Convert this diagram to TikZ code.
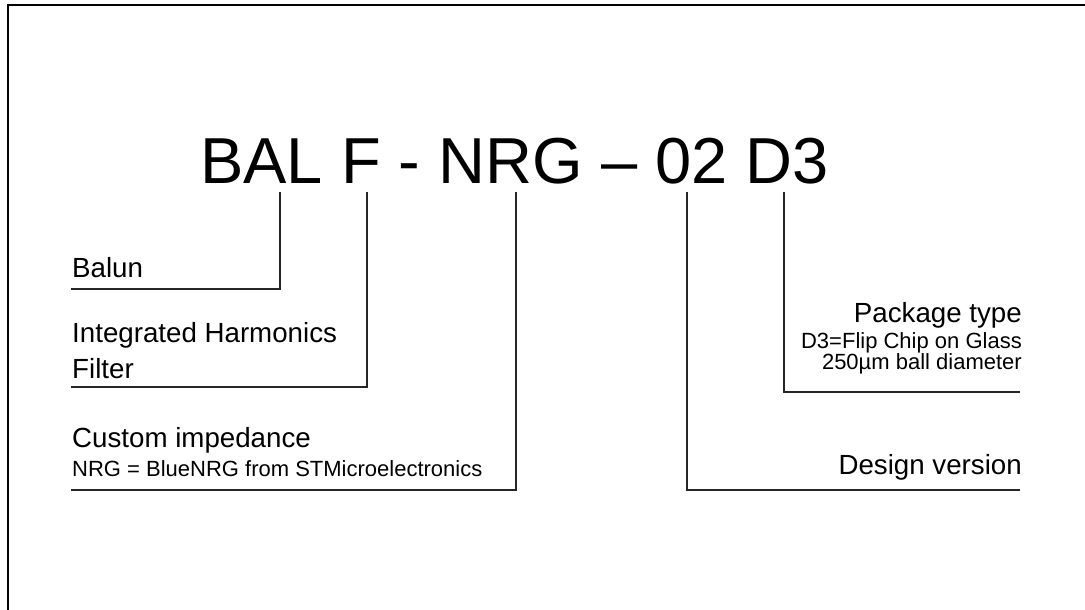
\documentclass[tikz,border=0pt]{standalone}
\usepackage{fontspec}
\setmainfont{Liberation Sans}
\begin{document}
\begin{tikzpicture}[x=1pt,y=-1pt,
  lbl/.style={inner sep=0pt, font=\fontsize{27.7}{36}\selectfont},
  sml/.style={inner sep=0pt, font=\fontsize{22}{22}\selectfont},
  conn/.style={line width=1.3pt, black!85}]
\useasboundingbox (0,0) rectangle (1085,610);
\fill[white] (0,0) rectangle (1085,610);
% frame
\draw[line width=2.5pt, line cap=rect] (1086,5) -- (8,5) -- (8,611);
% title
\node[inner sep=0pt, anchor=base west, font=\fontsize{65}{65}\selectfont] (title) at (200,183) {BAL F - NRG – 02 D3};
% labels left
\node[lbl, anchor=base west] (balun) at (72,277) {Balun};
\node[lbl, anchor=base west, align=left] (ihf) at (72,378) {Integrated Harmonics\\Filter};
\node[lbl, anchor=base west] (cust) at (72,447) {Custom impedance};
\node[sml, anchor=base west] (nrg) at (72,476) {NRG = BlueNRG from STMicroelectronics};
% labels right
\node[lbl, anchor=base east] (pkg) at (1022,322) {Package type};
\node[sml, anchor=base east] (pkg1) at (1022,348) {D3=Flip Chip on Glass};
\node[sml, anchor=base east] (pkg2) at (1022,369) {250µm ball diameter};
\node[lbl, anchor=base east] (dv) at (1022,474) {Design version};
% connector coordinates
\coordinate (cBAL) at (280,192);
\coordinate (eBAL) at (71,289);
\coordinate (cF) at (367,192);
\coordinate (eF) at (71,387);
\coordinate (cNRG) at (516,192);
\coordinate (eNRG) at (71,490);
\coordinate (cV) at (687,192);
\coordinate (eV) at (1020,490);
\coordinate (cD) at (784,192);
\coordinate (eD) at (1020,392);
\draw[conn] (cBAL) |- (eBAL);
\draw[conn] (cF) |- (eF);
\draw[conn] (cNRG) |- (eNRG);
\draw[conn] (cV) |- (eV);
\draw[conn] (cD) |- (eD);
\end{tikzpicture}
\end{document}
